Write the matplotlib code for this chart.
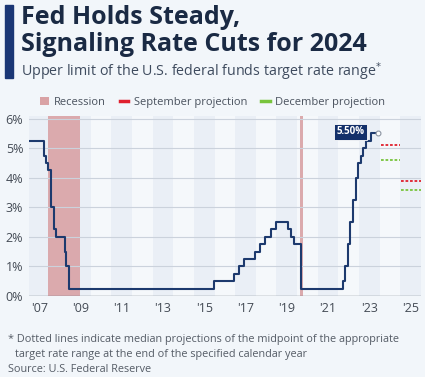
import matplotlib
matplotlib.use('Agg')
import matplotlib.pyplot as plt
from matplotlib.patches import Patch, Rectangle
from matplotlib.lines import Line2D

plt.rcParams['font.family'] = ['Open Sans', 'DejaVu Sans']

# fed funds target rate, upper limit (decimal year, %)
rate_dates = [2007.0, 2007.71, 2007.83, 2007.94, 2008.06, 2008.08, 2008.21, 2008.33,
              2008.77, 2008.82, 2008.96, 2015.96, 2016.95, 2017.20, 2017.45, 2017.95,
              2018.22, 2018.45, 2018.74, 2018.97, 2019.58, 2019.71, 2019.83, 2020.17,
              2020.21, 2022.21, 2022.34, 2022.46, 2022.57, 2022.72, 2022.84, 2022.95,
              2023.09, 2023.22, 2023.34, 2023.57, 2023.92]
rate_values = [5.25, 4.75, 4.50, 4.25, 3.50, 3.00, 2.25, 2.00,
               1.50, 1.00, 0.25, 0.50, 0.75, 1.00, 1.25, 1.50,
               1.75, 2.00, 2.25, 2.50, 2.25, 2.00, 1.75, 1.25,
               0.25, 0.50, 1.00, 1.75, 2.50, 3.25, 4.00, 4.50,
               4.75, 5.00, 5.25, 5.50, 5.50]

recessions = [(2007.92, 2009.5), (2020.15, 2020.3)]

proj_years = [2024, 2025]
sep_proj = [5.1, 3.9]
dec_proj = [4.6, 3.6]

year_labels = ["'07", "'09", "'11", "'13", "'15", "'17", "'19", "'21", "'23", "'25"]
tick_years = [2007.5 + 2 * i for i in range(len(year_labels))]

bg = '#f2f6fa'
navy = '#1d3a6e'
red = '#e0202e'
green = '#78c43c'
note_color = '#555c66'

fig = plt.figure(figsize=(4.25, 3.77), dpi=100, facecolor=bg)
ax = fig.add_axes([0.068, 0.215, 0.922, 0.478])
ax.set_facecolor('#f5f8fb')

# alternating year columns
for y in range(2007, 2026, 2):
    ax.axvspan(y, y + 1, color='#eaeff6', zorder=0, lw=0)

for start, end in recessions:
    ax.axvspan(start, end, color='#d9a2a5', alpha=0.9, zorder=1, lw=0)

for lvl in range(1, 7):
    ax.axhline(lvl, color='#cbd2dc', lw=0.8, zorder=2)
ax.axhline(0, color='#777f8a', lw=1.0, zorder=2)

ax.step(rate_dates, rate_values, where='post', color=navy, lw=1.5, zorder=4)
ax.plot(rate_dates[-1], rate_values[-1], 'o', ms=3.5, mfc='white', mec='#8a93a0',
        mew=0.8, zorder=5)

for yr, s, d in zip(proj_years, sep_proj, dec_proj):
    ax.plot([yr + 0.05, yr + 1], [s, s], color=red, lw=1.3, ls=(0, (1.5, 1)), zorder=4)
    ax.plot([yr + 0.05, yr + 1], [d, d], color=green, lw=1.3, ls=(0, (1.5, 1)), zorder=4)

ax.text(2022.6, 5.55, '5.50%', color='white', fontsize=7, fontweight='bold',
        ha='center', va='center', zorder=6,
        bbox=dict(boxstyle='square,pad=0.25', fc='#13306a', ec='white', lw=0.6))

ax.set_xlim(2007, 2026)
ax.set_ylim(0, 6.1)
ax.set_yticks(range(0, 7))
ax.set_yticklabels([f'{v}%' for v in range(0, 7)])
ax.set_xticks(tick_years)
ax.set_xticklabels(year_labels)
ax.tick_params(length=0, labelsize=9, colors='#444b55', pad=4)
for sp in ax.spines.values():
    sp.set_visible(False)

# legend
handles = [Patch(color='#d9a2a5', lw=0),
           Line2D([], [], color=red, lw=2.5),
           Line2D([], [], color=green, lw=2.5)]
labels = ['Recession', 'September projection', 'December projection']
fig.legend(handles, labels, loc='center', bbox_to_anchor=(0.5, 0.728), ncol=3,
           frameon=False, fontsize=8, handlelength=0.8, handleheight=0.8,
           handletextpad=0.5, columnspacing=1.2, labelcolor='#4a525e')

# title block
fig.patches.append(Rectangle((0.012, 0.793), 0.018, 0.195, transform=fig.transFigure,
                             color='#1a3675', figure=fig))
fig.text(0.05, 0.937, 'Fed Holds Steady,', fontsize=18, fontweight='bold',
         color='#1a2a44', va='baseline')
fig.text(0.05, 0.865, 'Signaling Rate Cuts for 2024', fontsize=18, fontweight='bold',
         color='#1a2a44', va='baseline')
fig.text(0.05, 0.798, 'Upper limit of the U.S. federal funds target rate range$^{*}$',
         fontsize=10.3, color='#3e4b5e', va='baseline')

# footnotes
fig.text(0.018, 0.093, '* Dotted lines indicate median projections of the midpoint of the appropriate',
         fontsize=7.8, color=note_color, va='baseline')
fig.text(0.035, 0.053, 'target rate range at the end of the specified calendar year',
         fontsize=7.8, color=note_color, va='baseline')
fig.text(0.018, 0.013, 'Source: U.S. Federal Reserve', fontsize=7.8, color=note_color,
         va='baseline')

fig.savefig('out.png', dpi=100, facecolor=bg)
